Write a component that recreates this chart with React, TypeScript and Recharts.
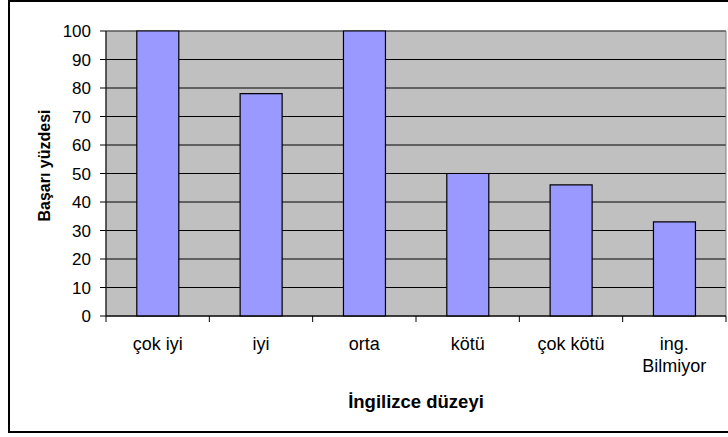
import { BarChart, Bar, XAxis, YAxis, CartesianGrid, ReferenceArea } from 'recharts';

const categories = ['çok iyi', 'iyi', 'orta', 'kötü', 'çok kötü', 'ing. Bilmiyor'];
const successRate = [100, 78, 100, 50, 46, 33];
const yTicks = [0, 10, 20, 30, 40, 50, 60, 70, 80, 90, 100];

const data = categories.map((name, i) => ({ name, value: successRate[i] }));

const FONT = '"Liberation Sans", Arial, sans-serif';

// Excel style: tick marks sit between categories, not under them
function LevelTick(props: any) {
  const { x, y, payload, index } = props;
  const half = payload.offset || 51.6;
  const label = String(payload.value);
  // long labels wrap after the first word, like Excel does
  const lines = label.length > 10 ? [label.slice(0, label.indexOf(' ')), label.slice(label.indexOf(' ') + 1)] : [label];
  return (
    <g>
      <line x1={x - half} x2={x - half} y1={y - 6} y2={y} stroke="#000" />
      {index === categories.length - 1 && (
        <line x1={x + half} x2={x + half} y1={y - 6} y2={y} stroke="#000" />
      )}
      <text x={x} y={y + 28} textAnchor="middle" fontSize={18} fill="#000">
        {lines.map((ln, i) => (
          <tspan key={i} x={x} dy={i === 0 ? 0 : 22}>
            {ln}
          </tspan>
        ))}
      </text>
    </g>
  );
}

function YTitle(props: any) {
  const { viewBox } = props;
  const cx = viewBox.x + 44;
  const cy = viewBox.y + viewBox.height / 2 - 8;
  return (
    <text
      transform={`translate(${cx},${cy}) rotate(-90)`}
      textAnchor="middle"
      dominantBaseline="central"
      fontWeight="bold"
      fontSize={16}
      fill="#000"
    >
      Başarı yüzdesi
    </text>
  );
}

function XTitle(props: any) {
  const { viewBox } = props;
  return (
    <text
      x={viewBox.x + viewBox.width / 2}
      y={viewBox.y + 92}
      textAnchor="middle"
      fontWeight="bold"
      fontSize={18.5}
      fill="#000"
    >
      İngilizce düzeyi
    </text>
  );
}

export default function App() {
  return (
    <div
      style={{
        position: 'absolute',
        left: 0,
        top: 0,
        width: 728,
        height: 437,
        overflow: 'hidden',
        background: '#fff',
        fontFamily: FONT,
      }}
    >
      <div
        style={{
          position: 'absolute',
          left: 8,
          top: 0,
          width: 800,
          height: 433,
          border: '2px solid #000',
          boxSizing: 'border-box',
        }}
      />
      <div style={{ position: 'absolute', left: 0, top: 0 }}>
        <BarChart
          width={728}
          height={437}
          data={data}
          margin={{ top: 31, right: 2, bottom: 0, left: 0 }}
          barCategoryGap="29.8%"
        >
          <CartesianGrid vertical={false} stroke="#000" fill="#C0C0C0" />
          <ReferenceArea y1={0} y2={100} stroke="#808080" fill="none" />
          <XAxis
            dataKey="name"
            height={121}
            interval={0}
            tickSize={6}
            tickMargin={0}
            tickLine={false}
            axisLine={{ stroke: '#000' }}
            tick={<LevelTick />}
            label={<XTitle />}
          />
          <YAxis
            width={106}
            domain={[0, 100]}
            ticks={yTicks}
            interval={0}
            tickSize={6}
            tickMargin={9}
            tickLine={{ stroke: '#000' }}
            axisLine={{ stroke: '#000' }}
            tick={{ fill: '#000', fontSize: 17 }}
            label={<YTitle />}
          />
          <Bar dataKey="value" fill="#9999FF" stroke="#000" strokeWidth={1.2} isAnimationActive={false} />
        </BarChart>
      </div>
    </div>
  );
}
